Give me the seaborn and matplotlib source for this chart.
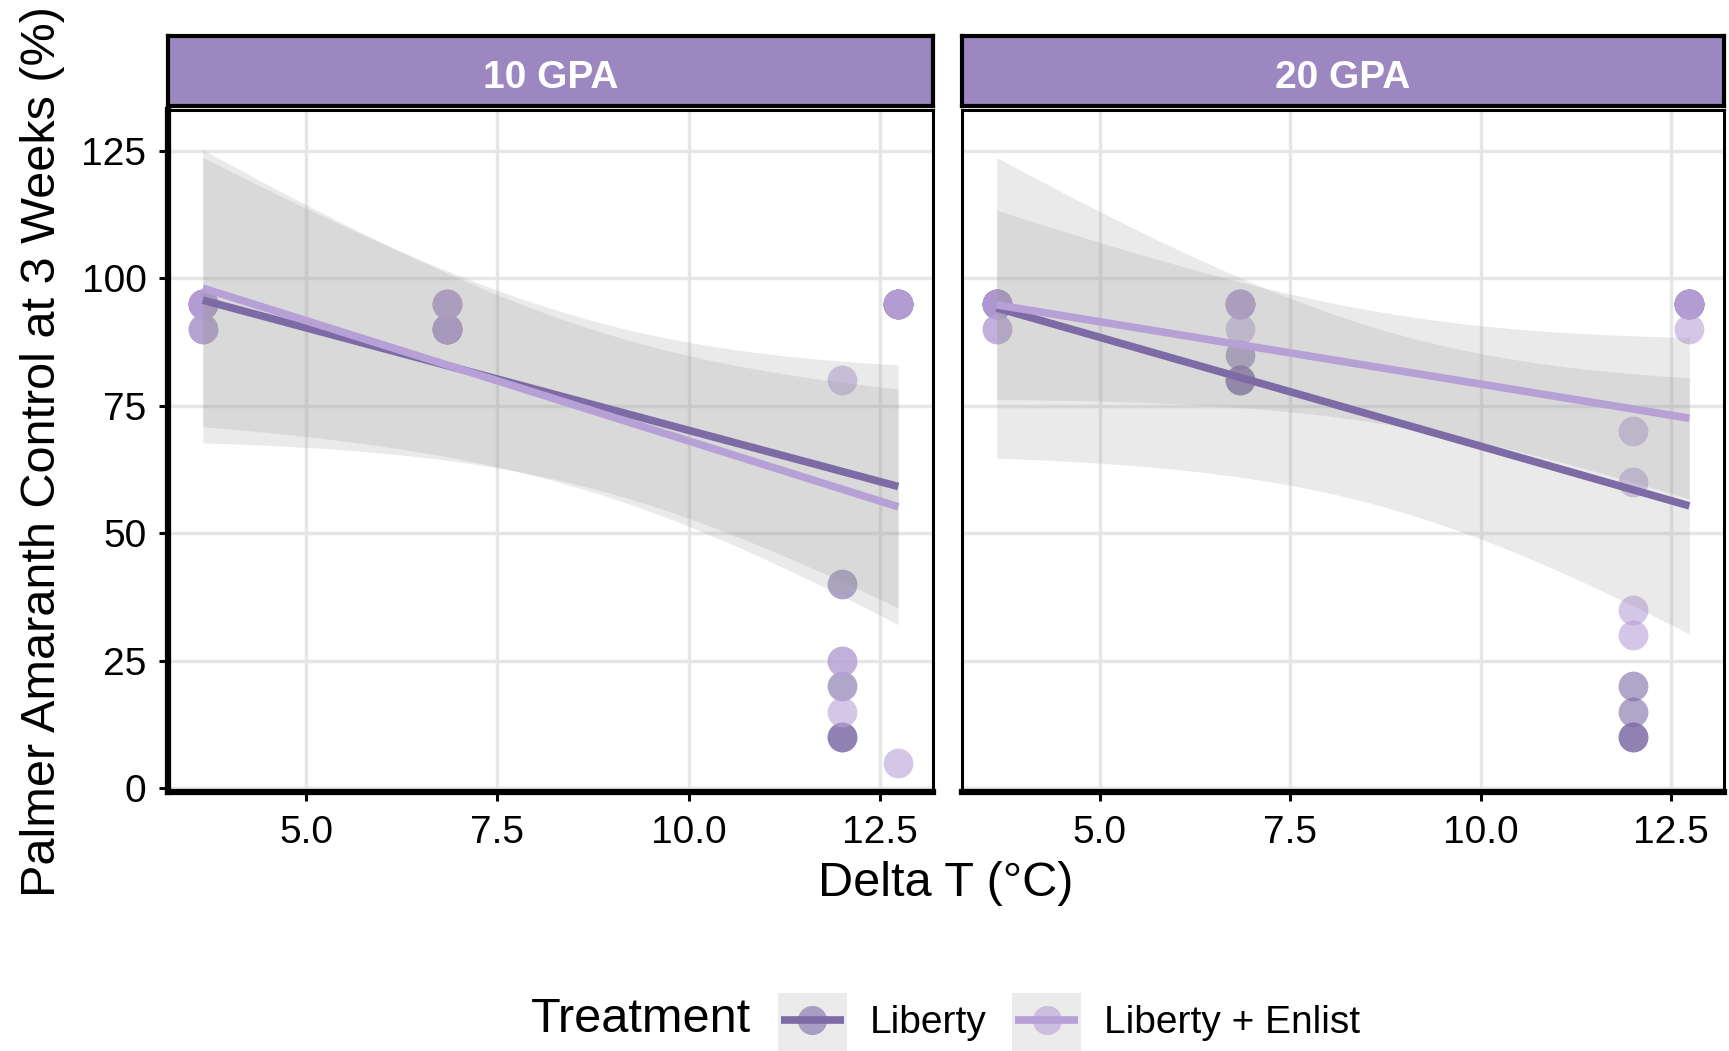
import numpy as np
import pandas as pd
import matplotlib
matplotlib.use("Agg")
import matplotlib.pyplot as plt
import seaborn as sns
from matplotlib.legend_handler import HandlerBase
from matplotlib.patches import Rectangle
from matplotlib.lines import Line2D

# ---- data -------------------------------------------------------------
spray_levels = ["10 GPA", "20 GPA"]
treatments = ["Liberty", "Liberty + Enlist"]
delta_t = [3.65] * 4 + [6.84] * 4 + [12.0] * 4 + [12.74] * 4

control_10_liberty = [95, 95, 95, 90, 95, 90, 90, 90, 40, 20, 10, 10, 95, 95, 95, 95]
control_10_enlist = [95, 95, 95, 90, 95, 95, 90, 90, 80, 25, 25, 15, 95, 95, 95, 5]
control_20_liberty = [95, 95, 95, 95, 95, 85, 80, 80, 20, 15, 10, 10, 95, 95, 95, 95]
control_20_enlist = [95, 95, 90, 90, 95, 95, 95, 90, 70, 60, 35, 30, 95, 95, 95, 90]

x_ticks = [5.0, 7.5, 10.0, 12.5]
x_tick_labels = ["5.0", "7.5", "10.0", "12.5"]
y_ticks = [0, 25, 50, 75, 100, 125]

palette = {"Liberty": "#7c6ba5", "Liberty + Enlist": "#b7a0d6"}
strip_color = "#9d87c1"

series = {
    ("10 GPA", "Liberty"): control_10_liberty,
    ("10 GPA", "Liberty + Enlist"): control_10_enlist,
    ("20 GPA", "Liberty"): control_20_liberty,
    ("20 GPA", "Liberty + Enlist"): control_20_enlist,
}
rows = []
for (spray, trt), vals in series.items():
    for dt, v in zip(delta_t, vals):
        rows.append({"spray": spray, "treatment": trt, "delta_t": dt, "control": v})
df = pd.DataFrame(rows)

# ---- figure -----------------------------------------------------------
plt.rcParams["font.family"] = ["Liberation Sans", "DejaVu Sans"]
W, H = 1729, 1051
fig = plt.figure(figsize=(W / 100, H / 100), dpi=100)

panel_top, panel_bottom = 110, 792
panels = [(168, 933), (962, 1724)]
axes = []
for (l, r) in panels:
    ax = fig.add_axes([l / W, 1 - panel_bottom / H, (r - l) / W, (panel_bottom - panel_top) / H])
    axes.append(ax)

T_975_DF14 = 2.1448  # Student t quantile for a 95% band, n = 16


def ols_band(x, y, grid):
    n = len(x)
    slope, intercept = np.polyfit(x, y, 1)
    fit = intercept + slope * grid
    resid = y - (intercept + slope * x)
    s = np.sqrt(np.sum(resid ** 2) / (n - 2))
    sxx = np.sum((x - x.mean()) ** 2)
    se = s * np.sqrt(1 / n + (grid - x.mean()) ** 2 / sxx)
    return fit - T_975_DF14 * se, fit + T_975_DF14 * se


for i, (ax, spray) in enumerate(zip(axes, spray_levels)):
    ax.set_facecolor("white")
    for trt in treatments:
        sub = df[(df.spray == spray) & (df.treatment == trt)]
        sns.regplot(
            data=sub, x="delta_t", y="control", ax=ax, ci=None,
            color=palette[trt],
            scatter_kws=dict(s=460, alpha=0.6, linewidths=0, zorder=1),
            line_kws=dict(lw=5.5, zorder=3, solid_capstyle="butt"),
        )
        x = sub.delta_t.to_numpy(dtype=float)
        y = sub.control.to_numpy(dtype=float)
        grid = np.linspace(x.min(), x.max(), 120)
        lo, hi = ols_band(x, y, grid)
        ax.fill_between(grid, lo, hi, color="#999999", alpha=0.2, lw=0, zorder=2)

    ax.set_xlim(3.1955, 13.1945)
    ax.set_ylim(-0.7, 133)
    ax.set_xticks(x_ticks)
    ax.set_xticklabels(x_tick_labels)
    ax.set_yticks(y_ticks)
    ax.set_xlabel("")
    ax.set_ylabel("")
    ax.set_axisbelow(True)
    ax.grid(True, color="#e6e6e6", lw=2.5)
    ax.tick_params(axis="both", direction="out", length=6.5, width=2.2,
                   color="black", labelsize=28, labelcolor="black")
    ax.tick_params(axis="x", pad=10)
    ax.tick_params(axis="y", pad=9)
    for side in ["top", "right", "left"]:
        ax.spines[side].set_linewidth(2.2)
        ax.spines[side].set_color("black")
    ax.spines["bottom"].set_linewidth(4.5)
    ax.spines["bottom"].set_color("black")
    if i == 0:
        ax.spines["left"].set_linewidth(4.5)
    else:
        ax.tick_params(axis="y", left=False, labelleft=False)

    # facet strip
    l, r = panels[i]
    sax = fig.add_axes([l / W, 1 - 106 / H, (r - l) / W, 70 / H])
    sax.set_facecolor(strip_color)
    sax.set_xticks([])
    sax.set_yticks([])
    for sp in sax.spines.values():
        sp.set_linewidth(3)
        sp.set_color("black")
    sax.text(0.5, 0.40, spray, ha="center", va="center", color="white",
             fontsize=28, fontweight="bold", transform=sax.transAxes)

# axis titles
fig.text(946 / W, 1 - 884 / H, "Delta T (°C)", ha="center", va="center", fontsize=35)
fig.text(43 / W, 1 - 452 / H, "Palmer Amaranth Control at 3 Weeks (%)",
         ha="center", va="center", rotation=90, fontsize=35)


# legend with grey key backgrounds
class GreyKeyHandler(HandlerBase):
    def create_artists(self, legend, orig_handle, xdescent, ydescent,
                       width, height, fontsize, trans):
        c = orig_handle.get_color()
        x0, y0 = -xdescent, -ydescent
        bg = Rectangle((x0, y0 - 8), width, height + 8, facecolor="#ebebeb",
                       edgecolor="none", transform=trans)
        ln = Line2D([x0 + 2, x0 + width - 2], [y0 + height / 2] * 2, color=c,
                    lw=5.5, solid_capstyle="butt", transform=trans)
        pt = Line2D([x0 + width / 2], [y0 + height / 2], marker="o", ms=21,
                    markeredgewidth=0, color=c, alpha=0.6, ls="none",
                    transform=trans)
        return [bg, ln, pt]


handles = [Line2D([], [], color=palette[t]) for t in treatments]
fig.text(531 / W, 1 - 1020 / H, "Treatment", ha="left", va="center", fontsize=35)
fig.legend(handles, treatments, loc="center left",
           bbox_to_anchor=(778 / W, 1 - 1020 / H), ncol=2, frameon=False,
           borderpad=0, borderaxespad=0, handlelength=1.77, handleheight=1.77,
           handletextpad=0.6, columnspacing=0.65, fontsize=28,
           handler_map={Line2D: GreyKeyHandler()})

fig.savefig("out.png", dpi=100)
